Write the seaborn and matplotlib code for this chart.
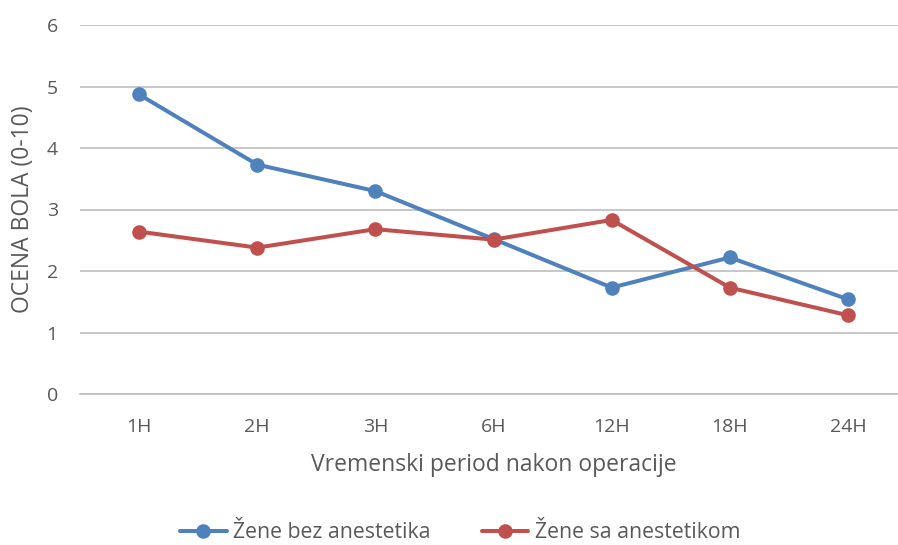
import matplotlib
matplotlib.use("Agg")
import matplotlib.pyplot as plt
import seaborn as sns
import pandas as pd

periods = ["1H", "2H", "3H", "6H", "12H", "18H", "24H"]
bez_anestetika = [4.87, 3.73, 3.30, 2.52, 1.73, 2.22, 1.54]
sa_anestetikom = [2.64, 2.38, 2.68, 2.51, 2.83, 1.73, 1.28]
series_names = ["Žene bez anestetika", "Žene sa anestetikom"]
colors = ["#4F81BD", "#C0504D"]

sns.set_theme(style="white")
plt.rcParams["font.family"] = ["Open Sans", "DejaVu Sans"]
text_color = "#595959"
grid_color = "#BEBEBE"

df = pd.DataFrame({
    "period": periods * 2,
    "score": bez_anestetika + sa_anestetikom,
    "series": [series_names[0]] * len(periods) + [series_names[1]] * len(periods),
})

fig = plt.figure(figsize=(8.98, 5.45), dpi=100)
ax = fig.add_axes([80 / 898, (545 - 394) / 545, 827 / 898, 369 / 545])

sns.lineplot(
    data=df, x="period", y="score", hue="series", palette=colors,
    marker="o", markersize=10.5, markeredgewidth=0, linewidth=2.9,
    sort=False, ax=ax, legend=False,
)

ax.set_xlim(-0.5, len(periods) - 0.5)
ax.set_ylim(0, 6)
ax.set_yticks(range(0, 7))
ax.yaxis.grid(True, color=grid_color, linewidth=1.2)
ax.set_axisbelow(True)
for side in ["top", "right", "left"]:
    ax.spines[side].set_visible(False)
ax.spines["bottom"].set_color(grid_color)
ax.spines["bottom"].set_linewidth(1.2)

ax.set_xticks(range(len(periods)))
ax.set_xticklabels(periods)
ax.set_xticks([i - 0.5 for i in range(len(periods) + 1)], minor=True)
ax.tick_params(axis="x", which="major", length=0, pad=17, labelsize=14, labelcolor=text_color)
ax.tick_params(axis="x", which="minor", length=6, width=1.2, color=grid_color, direction="out")
ax.tick_params(axis="y", length=0, pad=16, labelsize=14, labelcolor=text_color)

ax.set_xlabel("Vremenski period nakon operacije", fontsize=16.5, color=text_color, va="center")
ax.set_ylabel("OCENA BOLA (0-10)", fontsize=16.5, color=text_color, va="center")
ax.xaxis.set_label_coords(0.5, (394 - 465) / 369)
ax.yaxis.set_label_coords((23 - 80) / 827, 0.5)

handles = [
    plt.Line2D([], [], color=c, linewidth=2.9, marker="o", markersize=10.5, markeredgewidth=0)
    for c in colors
]
fig.legend(
    handles, series_names, loc="center", bbox_to_anchor=(460 / 898, 12 / 545), ncol=2,
    frameon=False, fontsize=15.3, labelcolor=text_color, handlelength=2.2,
    handletextpad=0.3, columnspacing=2.4,
)

fig.savefig("out.png", dpi=100)
